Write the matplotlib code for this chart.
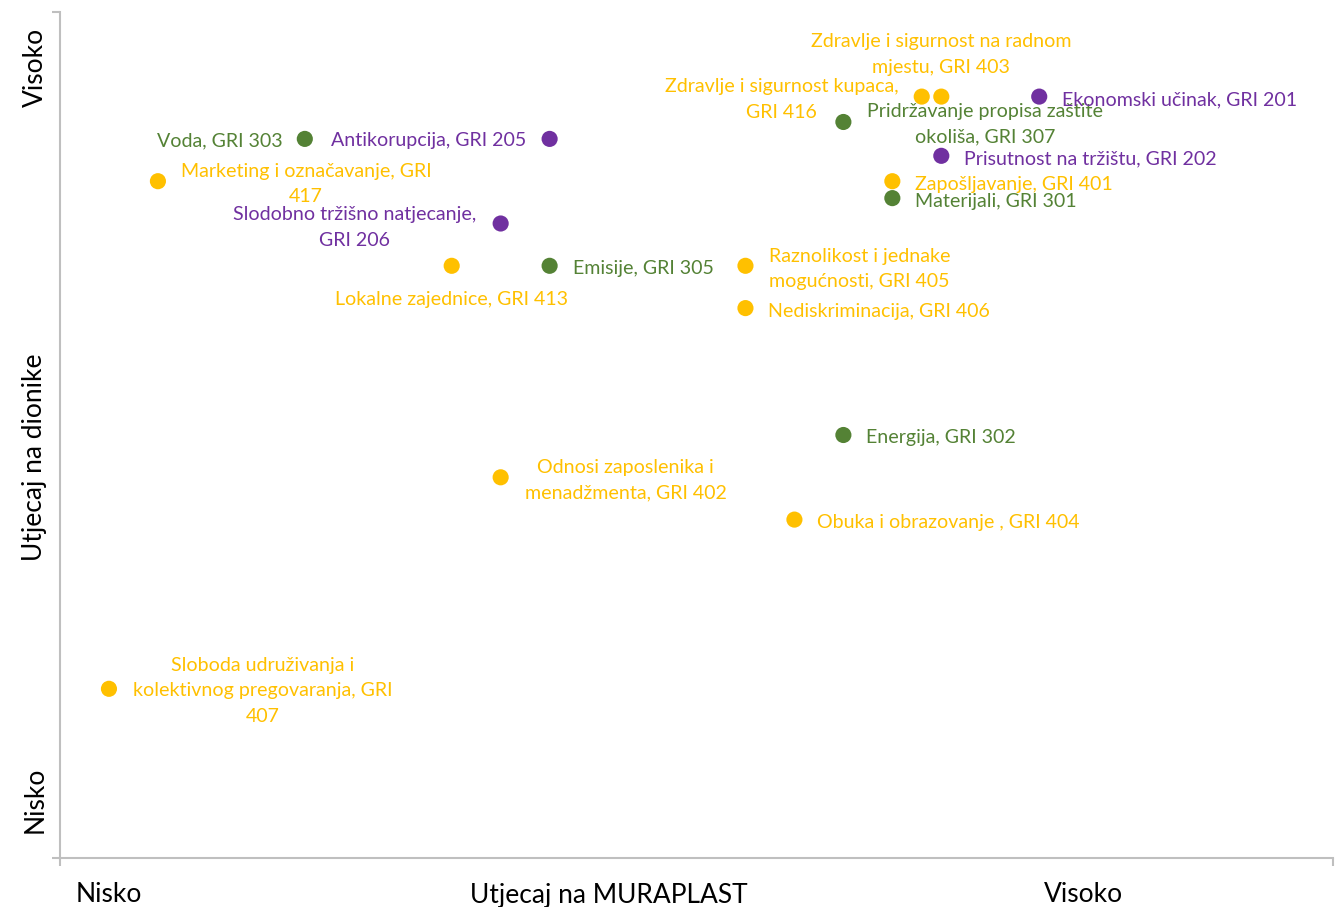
import matplotlib
matplotlib.use("Agg")
import matplotlib.pyplot as plt

plt.rcParams['font.family'] = ['Lato', 'DejaVu Sans']

# Data
labels = [
    "Sloboda udruživanja i\nkolektivnog pregovaranja, GRI\n407",
    "Marketing i označavanje, GRI\n417",
    "Voda, GRI 303",
    "Lokalne zajednice, GRI 413",
    "Slodobno tržišno natjecanje,\nGRI 206",
    "Antikorupcija, GRI 205",
    "Emisije, GRI 305",
    "Odnosi zaposlenika i\nmenadžmenta, GRI 402",
    "Raznolikost i jednake\nmogućnosti, GRI 405",
    "Nediskriminacija, GRI 406",
    "Obuka i obrazovanje , GRI 404",
    "Energija, GRI 302",
    "Pridržavanje propisa zaštite\nokoliša, GRI 307",
    "Zapošljavanje, GRI 401",
    "Materijali, GRI 301",
    "Zdravlje i sigurnost kupaca,\nGRI 416",
    "Zdravlje i sigurnost na radnom\nmjestu, GRI 403",
    "Prisutnost na tržištu, GRI 202",
    "Ekonomski učinak, GRI 201",
]
impact_company = [1, 2, 5, 8, 9, 10, 10, 9, 14, 14, 15, 16, 16, 17, 17, 17.6, 18, 18, 20]
impact_stakeholders = [4, 16, 17, 14, 15, 17, 14, 9, 14, 13, 8, 10, 17.4, 16, 15.6, 18, 18, 16.6, 18]
category = ["social", "social", "env", "social", "econ", "econ", "env", "social", "social",
            "social", "social", "env", "env", "social", "env", "social", "social", "econ", "econ"]

colors = {"social": "#FFC000", "env": "#548235", "econ": "#7030A0"}

# label placement (offset pixels, horizontal alignment)
label_pos = [
    (154, -2, "center"), (148, -3, "center"), (-22, -2, "right"), (0, -34, "center"),
    (-146, -4, "center"), (-23, -2, "right"), (23, -3, "left"), (125, -3, "center"),
    (114, -3, "center"), (23, -3, "left"), (23, -3, "left"), (23, -3, "left"),
    (142, -2, "center"), (23, -3, "left"), (23, -3, "left"), (-140, -3, "center"),
    (0, 42, "center"), (23, -3, "left"), (23, -3, "left"),
]

fig = plt.figure(figsize=(13.39, 9.07), dpi=100)
ax = fig.add_axes([60/1339, 49/907, 1273/1339, 846/907])

ax.scatter(impact_company, impact_stakeholders, s=135,
           c=[colors[c] for c in category], zorder=3, linewidths=0)

for lab, x, y, cat, (dx, dy, ha) in zip(labels, impact_company, impact_stakeholders, category, label_pos):
    ax.annotate(lab, (x, y), xytext=(dx, dy), textcoords="offset pixels",
                ha=ha, va="center", multialignment="center",
                color=colors[cat], fontsize=14.1, linespacing=1.6)

ax.set_xlim(0, 26)
ax.set_ylim(0, 20)
for s in ["top", "right"]:
    ax.spines[s].set_visible(False)
for s in ["left", "bottom"]:
    ax.spines[s].set_color("#BFBFBF")
    ax.spines[s].set_linewidth(1.5)
ax.set_xticks([0, 26])
ax.set_yticks([0, 20])
ax.set_xticklabels([])
ax.set_yticklabels([])
ax.tick_params(direction="out", length=6, width=1.5, color="#BFBFBF")

# axis category labels
x_axis_text = ["Nisko", "Utjecaj na MURAPLAST", "Visoko"]
x_axis_pos = [1, 11.2, 20.9]
y_axis_text = ["Visoko", "Utjecaj na dionike", "Nisko"]
y_axis_pos = [18.7, 9.48, 1.37]

for t, xp in zip(x_axis_text, x_axis_pos):
    ax.annotate(t, (xp, 0), xytext=(0, -37), textcoords="offset pixels",
                ha="center", va="center", fontsize=19, color="black",
                annotation_clip=False)
for t, yp in zip(y_axis_text, y_axis_pos):
    ax.annotate(t, (0, yp), xytext=(-25, 0), textcoords="offset pixels",
                ha="center", va="center", fontsize=19, color="black",
                rotation=90, annotation_clip=False)

fig.savefig("out.png", dpi=100)
